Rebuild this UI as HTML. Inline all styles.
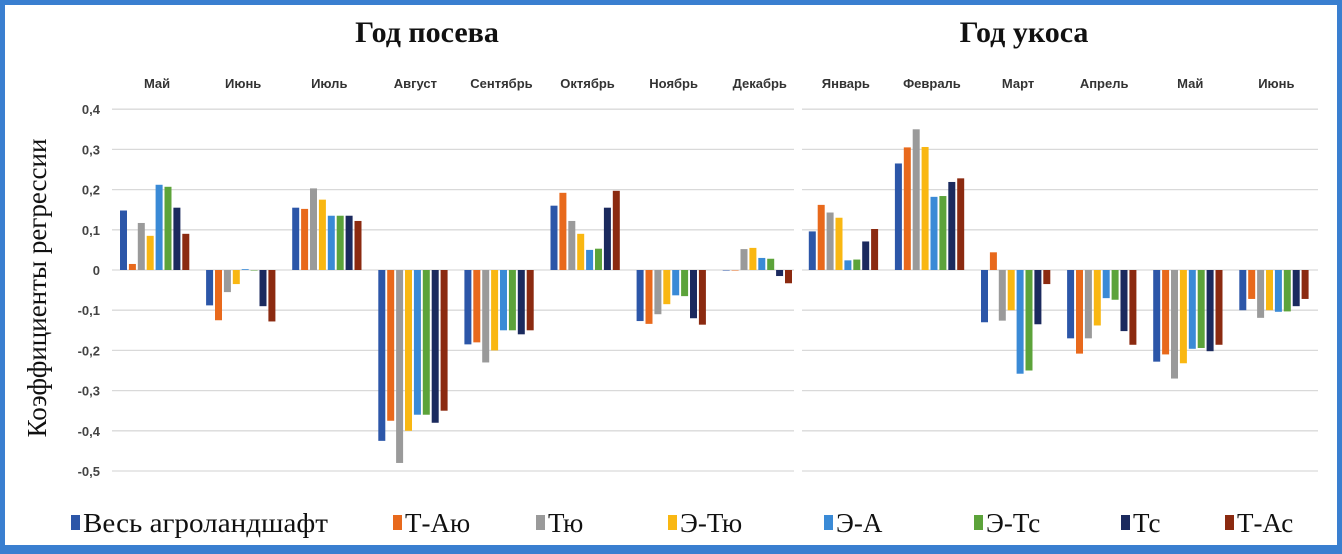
<!DOCTYPE html>
<html><head><meta charset="utf-8"><style>
html,body{margin:0;padding:0;background:#fff;}
#wrap{position:relative;width:1342px;height:554px;box-sizing:border-box;border:5px solid #3a7fd0;border-bottom-width:9px;background:#fff;overflow:hidden;}
svg{position:absolute;left:0;top:0;}
</style></head><body>
<div id="wrap">
<svg id="chart" width="1342" height="554" viewBox="5 5 1342 554"></svg>
</div>
<script>
const months = ["Май","Июнь","Июль","Август","Сентябрь","Октябрь","Ноябрь","Декабрь","Январь","Февраль","Март","Апрель","Май","Июнь"];
const seriesNames = ["Весь агроландшафт","Т-Аю","Тю","Э-Тю","Э-А","Э-Тс","Тс","Т-Ас"];
const seriesColors = ["#2c56a8","#e8691c","#9a9a9a","#f9b712","#3a8ad6","#5ca33a","#1b2a5e","#8b2a10"];
const s0 = [0.148,-0.088,0.155,-0.425,-0.185,0.16,-0.127,0,0.096,0.265,-0.13,-0.17,-0.228,-0.1];
const s1 = [0.015,-0.125,0.152,-0.375,-0.18,0.192,-0.134,0,0.162,0.305,0.044,-0.208,-0.21,-0.072];
const s2 = [0.117,-0.055,0.203,-0.48,-0.23,0.122,-0.11,0.052,0.143,0.35,-0.126,-0.17,-0.27,-0.119];
const s3 = [0.085,-0.035,0.175,-0.4,-0.2,0.09,-0.085,0.055,0.13,0.306,-0.1,-0.138,-0.232,-0.1];
const s4 = [0.212,0.002,0.135,-0.36,-0.15,0.05,-0.063,0.03,0.024,0.182,-0.258,-0.07,-0.196,-0.104];
const s5 = [0.207,0,0.135,-0.36,-0.15,0.053,-0.065,0.028,0.026,0.184,-0.25,-0.074,-0.194,-0.103];
const s6 = [0.155,-0.09,0.135,-0.38,-0.16,0.155,-0.12,-0.015,0.071,0.219,-0.135,-0.152,-0.202,-0.09];
const s7 = [0.09,-0.128,0.122,-0.35,-0.15,0.197,-0.136,-0.033,0.102,0.228,-0.035,-0.186,-0.186,-0.072];
const yTicks = [0.4,0.3,0.2,0.1,0,-0.1,-0.2,-0.3,-0.4,-0.5];
const yTickLabels = ["0,4","0,3","0,2","0,1","0","-0,1","-0,2","-0,3","-0,4","-0,5"];
const allSeries = [s0,s1,s2,s3,s4,s5,s6,s7];

const NS="http://www.w3.org/2000/svg";
const svg=document.getElementById('chart');
function mk(tag,attrs,parent){const e=document.createElementNS(NS,tag);for(const k in attrs)e.setAttribute(k,attrs[k]);(parent||svg).appendChild(e);return e;}
const y0px=270, pxPerUnit=402;
function yScale(v){return y0px - v*pxPerUnit;}
const groupW=86.1, firstX=116;
function groupX(i){return firstX + i*groupW;}
function barX(i,s){return groupX(i)+4+s*8.9;}

yTicks.forEach((t,i)=>{
  const y=yScale(t);
  const g1=mk('line',{x1:112,x2:794,y1:y,y2:y,stroke:'#d9d9d9','stroke-width':1.3});
  
  
  const g2=mk('line',{x1:802,x2:1318,y1:y,y2:y,stroke:'#d9d9d9','stroke-width':1.3});
  
  
  const tx=mk('text',{x:100,y:y+5,'text-anchor':'end','font-family':'Liberation Sans, sans-serif','font-size':13,'font-weight':'bold',fill:'#444'});
  tx.textContent=yTickLabels[i];
  
  
});
months.forEach((m,i)=>{
  const t=mk('text',{x:groupX(i)+groupW/2-2,y:88,'text-anchor':'middle','font-family':'Liberation Sans, sans-serif','font-size':13,'font-weight':'bold',fill:'#333'});
  t.textContent=m;
  
  
});
allSeries.forEach((arr,s)=>{
  arr.forEach((v,i)=>{
    const y=yScale(v), y0=yScale(0);
    const r=mk('rect',{x:barX(i,s),y:Math.min(y,y0),width:7,height:Math.max(Math.abs(y-y0),0.5),fill:seriesColors[s]});
    
    
  });
});
const t1=mk('text',{x:427,y:42,'text-anchor':'middle','font-family':'Liberation Serif, serif','font-size':30,'font-weight':'bold',fill:'#111'});
t1.textContent='Год посева';


const t2=mk('text',{x:1024,y:42,'text-anchor':'middle','font-family':'Liberation Serif, serif','font-size':30,'font-weight':'bold',fill:'#111'});
t2.textContent='Год укоса';


const yt=mk('text',{x:0,y:0,'text-anchor':'middle','font-family':'Liberation Serif, serif','font-size':27,fill:'#111',transform:'translate(46,288) rotate(-90)'});
yt.textContent='Коэффициенты регрессии';


const legX=[71,393,536,668,824,974,1121,1225];
seriesNames.forEach((n,s)=>{
  const sq=mk('rect',{x:legX[s],y:515,width:9,height:15,fill:seriesColors[s]});
  
  
  const attrs={x:legX[s]+12,y:532,'font-family':'Liberation Serif, serif','font-size':27,fill:'#111'};
  if(s===0){attrs.textLength=245;attrs.lengthAdjust='spacingAndGlyphs';}
  const t=mk('text',attrs);
  t.textContent=n;
  
  
});
</script>
</body></html>
